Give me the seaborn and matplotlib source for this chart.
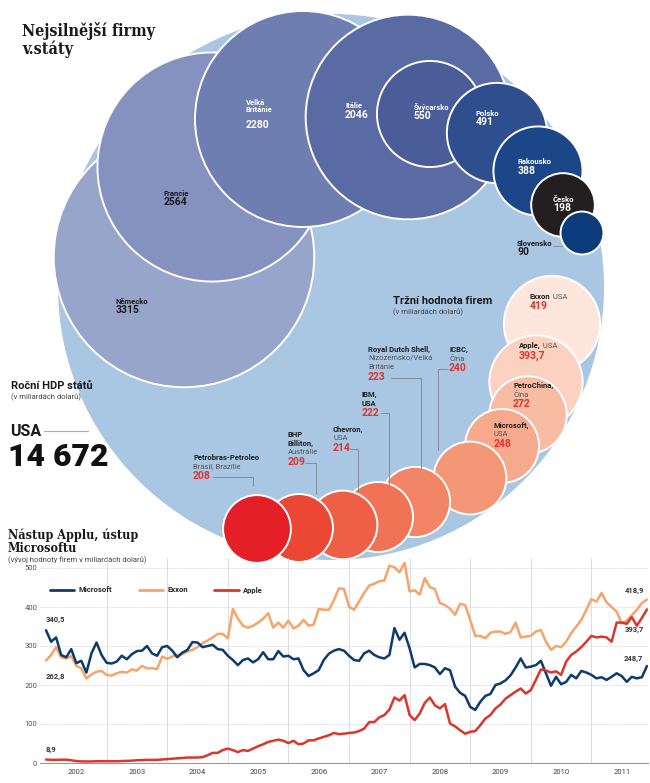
import numpy as np
import pandas as pd
import matplotlib
matplotlib.use('Agg')
import matplotlib.pyplot as plt
from matplotlib.lines import Line2D
import seaborn as sns

# ---------------- data ----------------
# annual GDP (bn USD)
usa_gdp = 14672
countries = ['Německo', 'Francie', 'Velká\nBritánie', 'Itálie', 'Švýcarsko',
             'Polsko', 'Rakousko', 'Česko', 'Slovensko']
gdp = [3315, 2564, 2280, 2046, 550, 491, 388, 198, 90]

# market value of companies (bn USD)
companies = ['Exxon', 'Apple,', 'PetroChina,', 'Microsoft,', 'ICBC,',
             'Royal Dutch Shell,', 'IBM,\nUSA', 'Chevron,', 'BHP\nBilliton,',
             'Petrobras-Petroleo']
company_home = [' USA', ' USA', 'Čína', 'USA', 'Čína', 'Nizozemsko/Velká\nBritánie',
                '', 'USA', 'Austrálie', 'Brasil, Brazílie']
market_value = [419, 393.7, 272, 248, 240, 223, 222, 214, 209, 208]

# monthly market value 2002-2011 (bn USD)
microsoft = [340.5, 311, 322, 277, 271, 292, 256, 262, 232, 281, 309, 277,
             257, 255, 260, 275, 266, 279, 287, 288, 300, 281, 275, 297,
             300, 288, 271, 283, 290, 310, 309, 297, 300, 303, 292, 290,
             275, 264, 251, 264, 268, 258, 266, 284, 266, 266, 287, 273,
             275, 266, 268, 238, 223, 230, 238, 264, 280, 288, 292, 288,
             275, 264, 262, 281, 288, 277, 271, 268, 277, 346, 316, 334,
             294, 245, 254, 254, 251, 245, 228, 243, 238, 196, 180, 172,
             144, 136, 157, 172, 177, 200, 204, 212, 225, 245, 268, 245,
             247, 251, 262, 230, 198, 221, 202, 208, 226, 217, 236, 232,
             226, 217, 220, 213, 221, 230, 223, 208, 221, 217, 220, 248.7]
exxon = [262.8, 277, 297, 271, 268, 274, 249, 243, 217, 227, 234, 236,
         226, 224, 230, 234, 232, 240, 237, 249, 243, 243, 241, 273,
         267, 273, 277, 279, 286, 290, 297, 307, 314, 322, 331, 331,
         320, 395, 370, 352, 347, 352, 360, 370, 384, 347, 360, 347,
         365, 345, 352, 367, 352, 355, 395, 393, 393, 417, 448, 446,
         401, 393, 414, 436, 455, 460, 466, 468, 506, 502, 489, 513,
         440, 443, 432, 474, 451, 446, 410, 405, 396, 380, 408, 405,
         367, 326, 326, 320, 334, 337, 337, 331, 336, 360, 322, 324,
         326, 337, 341, 311, 290, 300, 297, 311, 333, 350, 367, 393,
         420, 414, 436, 412, 400, 388, 358, 365, 379, 393, 410, 418.9]
apple = [8.9, 8, 8, 8.5, 8.5, 7, 5, 4, 4, 4, 4.5, 4.5,
         4.5, 4.5, 4.5, 5, 5.5, 6, 7, 7.5, 8, 8, 8, 9,
         10, 11, 12, 13, 14, 14, 14, 15, 20, 26, 26, 33,
         37, 33, 28, 33, 31, 37, 43, 48, 54, 57, 60, 57,
         51, 57, 48, 50, 58, 58, 63, 67, 71, 77, 74, 75,
         77, 78, 82, 88, 105, 105, 117, 123, 137, 168, 160, 174,
         123, 110, 127, 154, 168, 148, 140, 151, 101, 94, 84, 75,
         80, 82, 97, 114, 123, 140, 150, 165, 174, 183, 191, 178,
         187, 213, 240, 237, 232, 235, 226, 260, 277, 286, 297, 311,
         326, 322, 324, 322, 311, 360, 360, 357, 374, 352, 372, 393.7]
years = list(range(2002, 2012))
y_ticks = [0, 100, 200, 300, 400, 500]

# ---------------- layout (pixels, figure 650 x 783) ----------------
W, H, DPI = 650, 783, 100
usa_xy = (331, 287)
country_xy = [(184, 257), (212, 167), (303, 119), (408, 117), (430, 114),
              (497, 133), (538, 171), (563, 205), (582, 233)]
usa_color = '#a9c6e2'
country_colors = ['#98a5cb', '#8592c0', '#6e7eb0', '#5a6ba3', '#4b5d98',
                  '#2f4e8d', '#1b4687', '#231f20', '#0d3c7d']
country_label_xy = [(116, 301), (164, 193), (246, 106), (345, 106), (414, 107),
                    (476, 113), (518, 162), (553, 199), (517, 243)]
country_label_color = ['#1a1a1a', '#1a1a1a', 'white', 'white', 'white',
                       'white', 'white', 'white', '#1a1a1a']

company_xy = [(552, 324), (536, 382), (528, 415), (502, 446), (470, 478),
              (415, 502), (378, 517), (343, 525), (299, 528), (257, 529)]
company_colors = ['#fde6dc', '#fbd1bf', '#f8bca5', '#f6a98c', '#f49777',
                  '#f28565', '#f07355', '#ed6047', '#ea4835', '#e41f27']
company_label_xy = [(530, 293), (519, 342), (513, 382), (494, 422), (449, 346),
                    (368, 346), (362, 391), (333, 426), (288, 431), (193, 454)]
# leader lines: (x_text_end, y, x_bend, y_end)
leaders = {5: (391, 378, 421, 469), 6: (381, 413, 389, 486), 7: (350, 449, 358, 491),
           8: (305, 463, 316, 494), 9: (213, 477, 253, 486), 4: (447, 369, 438, 450)}

k_country = 2.262   # px of radius per sqrt(bn USD)
k_company = 2.35
pt = 72 / DPI

sns.set_style('white')
plt.rcParams['font.family'] = ['Roboto', 'DejaVu Sans']

fig = plt.figure(figsize=(W / DPI, H / DPI), dpi=DPI)
ax0 = fig.add_axes([0, 0, 1, 1])

# ---- country bubbles (area ~ GDP) ----
df_c = pd.DataFrame({
    'name': ['USA'] + countries,
    'x': [usa_xy[0]] + [p[0] for p in country_xy],
    'y': [usa_xy[1]] + [p[1] for p in country_xy],
    'value': [usa_gdp] + gdp,
})
smax_c = (2 * k_country * pt) ** 2 * usa_gdp
sns.scatterplot(data=df_c, x='x', y='y', size='value', sizes=(0, smax_c),
                size_norm=(0, usa_gdp), hue='name',
                palette=dict(zip(df_c['name'], [usa_color] + country_colors)),
                edgecolor='white', linewidth=1.4, alpha=1, legend=False, ax=ax0)

# ---- company bubbles (area ~ market value) ----
df_f = pd.DataFrame({
    'name': companies,
    'x': [p[0] for p in company_xy],
    'y': [p[1] for p in company_xy],
    'value': market_value,
})
vmax_f = max(market_value)
smax_f = (2 * k_company * pt) ** 2 * vmax_f
sns.scatterplot(data=df_f, x='x', y='y', size='value', sizes=(0, smax_f),
                size_norm=(0, vmax_f), hue='name',
                palette=dict(zip(companies, company_colors)),
                edgecolor='white', linewidth=1.4, alpha=1, legend=False, ax=ax0)
ax0.set_xlim(0, W)
ax0.set_ylim(H, 0)
ax0.axis('off')

# ---- titles and captions ----
ax0.text(22, 22, 'Nejsilnější firmy\nv.státy', fontsize=11.5, fontweight='bold',
         family='DejaVu Serif', fontstretch='condensed', va='top', ha='left',
         color='#1a1a1a', linespacing=1.05)
ax0.text(11, 386, 'Roční HDP států', fontsize=8, fontweight='bold', va='center', color='#1a1a1a')
ax0.text(11, 397, '(v miliardách dolarů)', fontsize=5.5, va='center', color='#444444')
ax0.text(10, 431, 'USA', fontsize=11.5, fontweight='bold', va='center', color='#1a1a1a')
ax0.plot([44, 88], [431, 431], color='#aaaaaa', lw=0.8)
ax0.text(8, 457, '14 672', fontsize=23, fontweight='heavy', va='center', color='#111111')
ax0.text(393, 301, 'Tržní hodnota firem', fontsize=8, fontweight='bold', va='center', color='#1a1a1a')
ax0.text(393, 312, '(v miliardách dolarů)', fontsize=5.5, va='center', color='#444444')

# ---- country labels ----
for name, val, (lx, ly), col in zip(countries, gdp, country_label_xy, country_label_color):
    n_lines = name.count('\n') + 1
    ax0.text(lx, ly, name, fontsize=5.5, fontweight='bold', color=col,
             va='center', ha='left', linespacing=1.15)
    ax0.text(lx, ly + 9.3 * n_lines, f'{val}', fontsize=7.5, fontweight='bold',
             color=col, va='center', ha='left')
ax0.plot([553, 562], [246, 246], color='#888888', lw=0.6)

# ---- company labels ----
for i, (name, home, val) in enumerate(zip(companies, company_home, market_value)):
    lx, ly = company_label_xy[i]
    val_txt = f'{val:g}'.replace('.', ',')
    row = 0
    for line in name.split('\n'):
        t = ax0.text(lx, ly + 8.8 * row, line, fontsize=5.5, fontweight='bold',
                     color='#1f1f1f', va='top', ha='left')
        row += 1
    if home.startswith(' '):
        ax0.annotate(home, xy=(1, 0), xycoords=t, fontsize=5.5, color='#555555',
                     va='bottom', ha='left')
    elif home:
        for line in home.split('\n'):
            ax0.text(lx, ly + 8.8 * row, line, fontsize=5.5, color='#555555',
                     va='top', ha='left')
            row += 1
    ax0.text(lx, ly + 8.8 * row - 0.5, val_txt, fontsize=7.5, fontweight='bold',
             color='#e2322b', va='top', ha='left')
    if i in leaders:
        x0, y0, x1, y1 = leaders[i]
        ax0.plot([x0, x1, x1], [y0, y0, y1], color='#7a8590', lw=0.6)

# ---- line chart ----
ax0.text(8, 528, 'Nástup Applu, ústup\nMicrosoftu', fontsize=9, fontweight='bold',
         family='DejaVu Serif', fontstretch='condensed', va='top', ha='left',
         color='#1a1a1a', linespacing=1.05)
ax0.text(8, 560, '(vývoj hodnoty firem v miliardách dolarů)', fontsize=5.5,
         va='center', color='#444444')

px_per_year = 60.6
ax_left, ax_right, ax_bottom, ax_top = 40, 648, 763, 558
ax1 = fig.add_axes([ax_left / W, (H - ax_bottom) / H, (ax_right - ax_left) / W,
                    (ax_bottom - ax_top) / H])
ax1.patch.set_alpha(0)

months = np.arange(len(microsoft))
t = years[0] + months / 12
df_l = pd.DataFrame({
    't': np.tile(t, 3),
    'hodnota': microsoft + exxon + apple,
    'firma': ['Microsoft'] * len(microsoft) + ['Exxon'] * len(exxon) + ['Apple'] * len(apple),
})
line_colors = {'Microsoft': '#0d3b6e', 'Exxon': '#f5a56b', 'Apple': '#da372c'}
sns.lineplot(data=df_l, x='t', y='hodnota', hue='firma', hue_order=['Exxon', 'Microsoft', 'Apple'],
             palette=line_colors, linewidth=1.8, estimator=None, legend=False, ax=ax1)

x0 = years[0] - (46 - ax_left) / px_per_year
x1 = years[0] + (ax_right - 46) / px_per_year
ax1.set_xlim(x0, x1)
ax1.set_ylim(0, (ax_bottom - ax_top) * 500 / (763 - 568))
ax1.set_yticks(y_ticks)
ax1.set_yticklabels([str(v) for v in y_ticks], fontsize=5.5, color='#555555')
ax1.set_xticks([y + 0.5 for y in years])
ax1.set_xticklabels([str(y) for y in years], fontsize=5.5, color='#444444')
ax1.set_xticks(years[1:], minor=True)
ax1.tick_params(axis='both', which='both', length=0)
ax1.tick_params(axis='y', pad=2)
ax1.tick_params(axis='x', pad=4)
ax1.grid(axis='y', which='major', color='#cfcfcf', lw=0.6, ls=(0, (1, 1)))
ax1.grid(axis='x', which='minor', color='#d8d8d8', lw=0.6)
ax1.grid(axis='x', which='major', visible=False)
ax1.set_xlabel('')
ax1.set_ylabel('')
for side in ['top', 'right', 'left']:
    ax1.spines[side].set_visible(False)
ax1.spines['bottom'].set_color('#999999')
ax1.spines['bottom'].set_linewidth(0.8)

handles = [Line2D([0], [0], color=line_colors[n], lw=2) for n in ['Microsoft', 'Exxon', 'Apple']]
ax1.legend(handles, ['Microsoft', 'Exxon', 'Apple'], loc='center left',
           bbox_to_anchor=(0.005, (ax_bottom - 590) / (ax_bottom - ax_top)),
           ncol=3, frameon=False, handlelength=3.2, handletextpad=0.6,
           columnspacing=3.4, prop={'size': 5.5, 'weight': 'bold'})

lab = dict(fontsize=5.5, fontweight='bold', color='#333333', textcoords='offset points')
ax1.annotate('340,5', xy=(t[0], microsoft[0]), xytext=(0, 5), ha='left', va='bottom', **lab)
ax1.annotate('262,8', xy=(t[0], exxon[0]), xytext=(0, -9), ha='left', va='top', **lab)
ax1.annotate('8,9', xy=(t[0], apple[0]), xytext=(0, 5), ha='left', va='bottom', **lab)
ax1.annotate('418,9', xy=(t[-1], exxon[-1]), xytext=(-2, 4), ha='right', va='bottom', **lab)
ax1.annotate('393,7', xy=(t[-1], apple[-1]), xytext=(-2, -12), ha='right', va='top', **lab)
ax1.annotate('248,7', xy=(t[-1], microsoft[-1]), xytext=(-3, 3), ha='right', va='bottom', **lab)

fig.savefig('out.png', dpi=DPI)
